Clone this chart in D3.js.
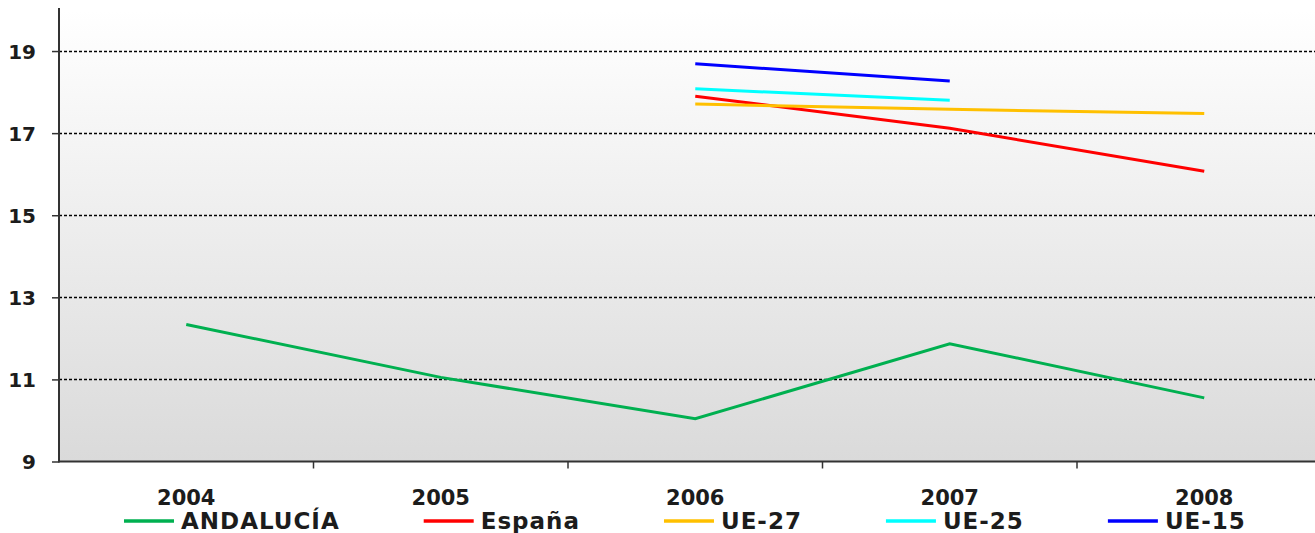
<!DOCTYPE html>
<html>
<head>
<meta charset="utf-8">
<script src="https://cdn.jsdelivr.net/npm/d3@7"></script>
<style>
  html, body { margin: 0; padding: 0; background: #fff; }
  svg { display: block; }
  text { font-family: "DejaVu Sans", Verdana, sans-serif; font-weight: bold; fill: #1c1c1c; }
</style>
</head>
<body>
<svg id="chart" width="1315" height="533"></svg>
<script>
const years = ["2004", "2005", "2006", "2007", "2008"];
const yTicks = [9, 11, 13, 15, 17, 19];
const seriesNames = ["ANDALUCÍA", "España", "UE-27", "UE-25", "UE-15"];
const seriesColors = ["#00b050", "#ff0000", "#ffc000", "#00ffff", "#0000ff"];
const andalucia = [12.34, 11.05, 10.04, 11.87, 10.55];
const espana = [null, null, 17.90, 17.12, 16.07];
const ue27 = [null, null, 17.71, 17.58, 17.48];
const ue25 = [null, null, 18.08, 17.80, null];
const ue15 = [null, null, 18.69, 18.27, null];
const seriesValues = [andalucia, espana, ue27, ue25, ue15];

(function () {
const svg = d3.select("#chart");
const W = 1315;
const mLeft = 59, mTop = 10, mBottom = 461.5;
const bandW = 254.5;

const x = d3.scaleBand().domain(years).range([mLeft, mLeft + bandW * years.length]);
const y = d3.scaleLinear().domain([9, 20]).range([mBottom, mTop]);

// background gradient
const defs = svg.append("defs");
const grad = defs.append("linearGradient").attr("id", "bg").attr("x1", 0).attr("y1", 0).attr("x2", 0).attr("y2", 1);
grad.append("stop").attr("offset", "0%").attr("stop-color", "#ffffff");
grad.append("stop").attr("offset", "100%").attr("stop-color", "#dadada");
svg.append("rect").attr("x", mLeft).attr("y", mTop).attr("width", W - mLeft).attr("height", mBottom - mTop).attr("fill", "url(#bg)");

// gridlines
svg.append("g").selectAll("line").data(yTicks.filter(d => d > 9)).join("line")
  .attr("x1", mLeft).attr("x2", W)
  .attr("y1", d => Math.round(y(d)) + 0.5).attr("y2", d => Math.round(y(d)) + 0.5)
  .attr("stroke", "#000").attr("stroke-width", 1.3).attr("stroke-dasharray", "3,2");

// y axis
const yAxis = d3.axisLeft(y).tickValues(yTicks).tickSize(7).tickPadding(16).tickFormat(d3.format("d"));
const gy = svg.append("g").attr("transform", `translate(${mLeft},0)`).call(yAxis);
gy.select(".domain").remove();
gy.selectAll(".tick line").attr("stroke", "#333").attr("stroke-width", 1.5);
gy.selectAll(".tick text").attr("font-size", 20).attr("fill", "#1c1c1c").attr("dy", "0.36em")
  .style("font-family", "DejaVu Sans, Verdana, sans-serif").style("font-weight", "bold");
svg.append("line").attr("x1", mLeft).attr("x2", mLeft).attr("y1", 8).attr("y2", mBottom + 1)
  .attr("stroke", "#333").attr("stroke-width", 2);

// x axis
const xAxis = d3.axisBottom(x).tickSize(0).tickPadding(0);
const gx = svg.append("g").attr("transform", `translate(0,${mBottom})`).call(xAxis);
gx.select(".domain").remove();
gx.selectAll(".tick text").attr("font-size", 21).attr("y", 43.5).attr("dy", 0)
  .style("font-family", "DejaVu Sans, Verdana, sans-serif").style("font-weight", "bold").attr("fill", "#1c1c1c");
svg.append("line").attr("x1", mLeft).attr("x2", W).attr("y1", mBottom).attr("y2", mBottom)
  .attr("stroke", "#333").attr("stroke-width", 2);
svg.append("g").selectAll("line").data(years.slice(1)).join("line")
  .attr("x1", d => x(d)).attr("x2", d => x(d)).attr("y1", mBottom).attr("y2", mBottom + 7)
  .attr("stroke", "#333").attr("stroke-width", 1.5);

// lines
const line = d3.line()
  .defined(d => d.v != null)
  .x(d => x(d.year) + x.bandwidth() / 2)
  .y(d => y(d.v));
seriesNames.forEach((name, i) => {
  const pts = years.map((yr, j) => ({ year: yr, v: seriesValues[i][j] }));
  svg.append("path").datum(pts).attr("d", line)
    .attr("fill", "none").attr("stroke", seriesColors[i]).attr("stroke-width", 3)
    .attr("stroke-linejoin", "miter");
});

// legend
const lg = svg.append("g");
let lx = 124;
const ly = 521, sw = 50;
seriesNames.forEach((name, i) => {
  lg.append("line").attr("x1", lx).attr("x2", lx + sw).attr("y1", ly).attr("y2", ly)
    .attr("stroke", seriesColors[i]).attr("stroke-width", 3.5);
  const t = lg.append("text").attr("x", lx + sw + 7).attr("y", 528.5)
    .attr("font-size", 23).attr("letter-spacing", 1).text(name);
  const w = t.node().getComputedTextLength();
  lx = lx + sw + 7 + w + 84;
});
})();
</script>
</body>
</html>
